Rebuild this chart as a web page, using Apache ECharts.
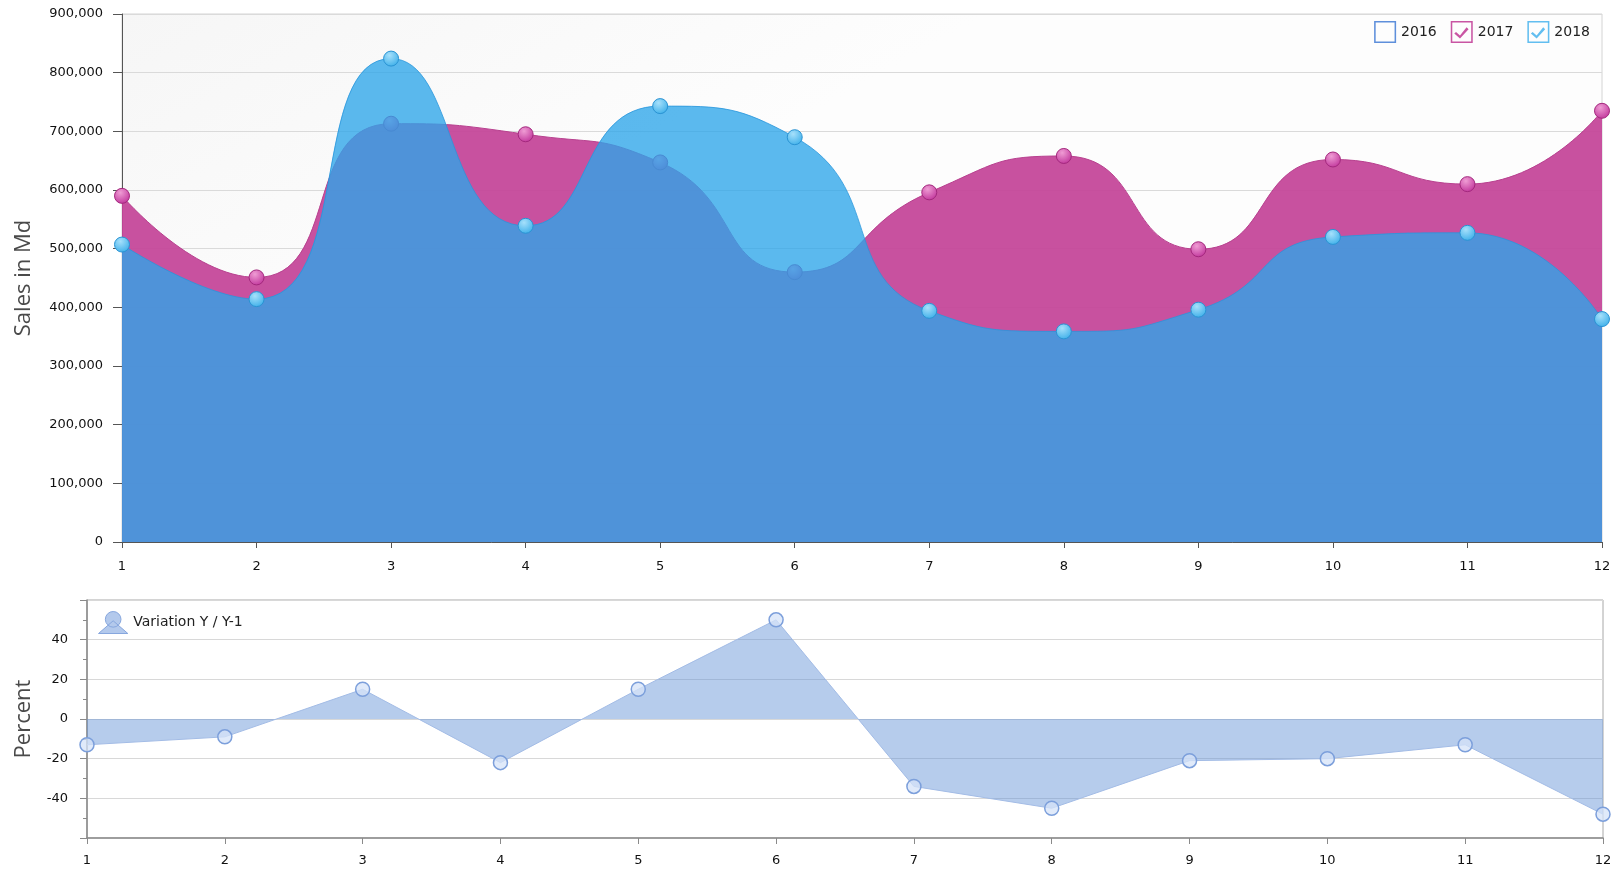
<!DOCTYPE html>
<html>
<head>
<meta charset="utf-8">
<script src="https://cdn.jsdelivr.net/npm/echarts@6/dist/echarts.min.js"></script>
<style>
  html, body { margin: 0; padding: 0; background: #fff; }
  #main { width: 1622px; height: 870px; }
</style>
</head>
<body>
<div id="main"></div>
<script>
// months on both x axes
const months = ['1', '2', '3', '4', '5', '6', '7', '8', '9', '10', '11', '12'];
// 2016 is unchecked in the legend, so nothing of it is drawn
const sales2016 = [];
const sales2017 = [590000, 451000, 713000, 695000, 647000, 460000, 596000, 658000, 499000, 652000, 610000, 735000];
const sales2018 = [507000, 414000, 824000, 539000, 743000, 690000, 394000, 359000, 396000, 520000, 527000, 380000];
// year over year variation, percent
const variation = [-13, -9, 15, -22, 15, 50, -34, -45, -21, -20, -13, -48];
const salesRange = [0, 900000, 100000];
const percentRange = [-60, 60, 20];

const font = 'DejaVu Sans';
// checkbox icons for the top legend
const boxIcon = 'path://M0,0H100V100H0Z M7,7V93H93V7Z';
const checkIcon = 'path://M0,0H100V100H0Z M7,7V93H93V7Z M24,50L42,66L72,28L81,37L42,80L16,57Z';
const variationIcon = 'path://M0,22L15,9L30,22Z M7,7.5A8,8 0 1,1 23,7.5A8,8 0 1,1 7,7.5Z';

let myChart = echarts.init(document.getElementById('main'));
let option = {
  animation: false,
  legend: [
    {
      right: 27,
      top: 16,
      itemWidth: 22,
      itemHeight: 22,
      itemGap: 14,
      textStyle: { fontFamily: font, fontSize: 14, color: '#222' },
      itemStyle: { borderWidth: 0 },
      data: [
        { name: '2016', icon: boxIcon, itemStyle: { color: '#5E8FDB' } },
        { name: '2017', icon: checkIcon, itemStyle: { color: '#C955A3' } },
        { name: '2018', icon: checkIcon, itemStyle: { color: '#62BEF0' } }
      ]
    },
    {
      left: 93,
      top: 606,
      itemWidth: 30,
      itemHeight: 22,
      textStyle: { fontFamily: font, fontSize: 14, color: '#222' },
      data: [
        { name: 'Variation Y / Y-1', icon: variationIcon,
          itemStyle: { color: '#B3C9EC', borderColor: '#87A7DE', borderWidth: 1 } }
      ]
    }
  ],
  grid: [
    {
      left: 122, right: 20, top: 14, height: 528,
      show: true,
      borderColor: '#d4d4d4',
      backgroundColor: {
        type: 'linear', x: 0, y: 0, x2: 0.2, y2: 1,
        colorStops: [{ offset: 0, color: '#f6f6f6' }, { offset: 0.7, color: '#fdfdfd' }]
      }
    },
    {
      left: 87, right: 19, top: 600, height: 238,
      show: true,
      borderColor: '#a8a8a8',
      backgroundColor: '#fff'
    }
  ],
  xAxis: [
    {
      gridIndex: 0,
      type: 'category',
      data: months,
      boundaryGap: false,
      axisLine: { lineStyle: { color: '#555', width: 1 } },
      axisTick: { length: 6, lineStyle: { color: '#555' } },
      axisLabel: { margin: 18, fontFamily: font, fontSize: 13, color: '#111' },
      splitLine: { show: false }
    },
    {
      gridIndex: 1,
      type: 'category',
      data: months,
      boundaryGap: false,
      axisLine: { onZero: false, lineStyle: { color: '#8a8a8a', width: 1.5 } },
      axisTick: { length: 6, lineStyle: { color: '#8a8a8a' } },
      axisLabel: { margin: 16, fontFamily: font, fontSize: 13, color: '#111' },
      splitLine: { show: false }
    }
  ],
  yAxis: [
    {
      gridIndex: 0,
      type: 'value',
      min: salesRange[0],
      max: salesRange[1],
      interval: salesRange[2],
      name: 'Sales in Md',
      nameLocation: 'middle',
      nameGap: 87,
      nameTextStyle: { fontFamily: 'Open Sans', fontSize: 22, color: '#4a4a4a' },
      axisLine: { show: true, lineStyle: { color: '#555', width: 1 } },
      axisTick: { show: true, length: 9, lineStyle: { color: '#555' } },
      axisLabel: {
        margin: 19, fontFamily: font, fontSize: 13, color: '#111',
        formatter: (v) => v.toLocaleString('en-US')
      },
      splitLine: { lineStyle: { color: '#dadada', width: 1 } }
    },
    {
      gridIndex: 1,
      type: 'value',
      min: percentRange[0],
      max: percentRange[1],
      interval: percentRange[2],
      name: 'Percent',
      nameLocation: 'middle',
      nameGap: 52,
      nameTextStyle: { fontFamily: 'Open Sans', fontSize: 22, color: '#4a4a4a' },
      axisLine: { show: true, lineStyle: { color: '#8a8a8a', width: 1.5 } },
      axisTick: { show: true, length: 7, lineStyle: { color: '#8a8a8a' } },
      minorTick: { show: true, splitNumber: 2, length: 4, lineStyle: { color: '#8a8a8a' } },
      axisLabel: {
        margin: 19, fontFamily: font, fontSize: 13, color: '#111',
        showMinLabel: false, showMaxLabel: false
      },
      splitLine: { lineStyle: { color: '#d8d8d8', width: 1 } }
    }
  ],
  series: [
    {
      name: '2016',
      type: 'line',
      xAxisIndex: 0,
      yAxisIndex: 0,
      data: sales2016,
      itemStyle: { color: '#5E8FDB' }
    },
    {
      name: '2017',
      type: 'line',
      xAxisIndex: 0,
      yAxisIndex: 0,
      z: 2,
      smooth: 0.55,
      data: sales2017,
      symbol: 'circle',
      symbolSize: 15,
      lineStyle: { color: '#B8418F', width: 1 },
      areaStyle: { color: 'rgba(196,68,152,0.93)', opacity: 1 },
      itemStyle: {
        color: {
          type: 'radial', x: 0.4, y: 0.3, r: 0.75,
          colorStops: [{ offset: 0, color: '#EF9CD4' }, { offset: 1, color: '#C0339A' }]
        },
        borderColor: '#A3287D',
        borderWidth: 1
      }
    },
    {
      name: '2018',
      type: 'line',
      xAxisIndex: 0,
      yAxisIndex: 0,
      z: 3,
      smooth: 0.55,
      data: sales2018,
      symbol: 'circle',
      symbolSize: 15,
      lineStyle: { color: 'rgba(40,150,220,0.8)', width: 1 },
      areaStyle: { color: 'rgba(45,165,233,0.78)', opacity: 1 },
      itemStyle: {
        color: {
          type: 'radial', x: 0.4, y: 0.3, r: 0.75,
          colorStops: [{ offset: 0, color: '#A6E0FB' }, { offset: 1, color: '#3BAEE9' }]
        },
        borderColor: '#2A93D3',
        borderWidth: 1
      }
    },
    {
      name: 'Variation Y / Y-1',
      type: 'line',
      xAxisIndex: 1,
      yAxisIndex: 1,
      data: variation,
      symbol: 'circle',
      symbolSize: 14,
      lineStyle: { color: '#A3BCE6', width: 1 },
      areaStyle: { color: 'rgba(100,146,214,0.47)', opacity: 1, origin: 0 },
      itemStyle: { color: 'rgba(214,227,248,0.75)', borderColor: '#7C9FDB', borderWidth: 1.5 }
    }
  ]
};
myChart.setOption(option);
</script>
</body>
</html>
